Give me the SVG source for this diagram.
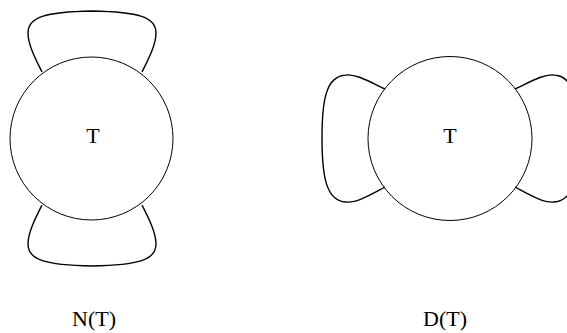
<svg xmlns="http://www.w3.org/2000/svg" width="567" height="333" viewBox="0 0 567 333">
<style>
.c{fill:none;stroke:#000;stroke-width:1}
.l{fill:none;stroke:#000;stroke-width:1.4}
text{font-family:"Liberation Serif","Times New Roman",serif;font-size:22px;fill:#000;text-anchor:middle}
</style>
<rect width="567" height="333" fill="#fff"/>
<g id="connectors">
<path class="l" d="M42,72 C36,60 28,45 28,33 C28,17 45,12 92,11 C139,12 156,17 156,33 C156,45 148,60 142,72"/>
<path class="l" d="M42,205 C36,217 28,232 28,244 C28,260 45,265 92,266 C139,265 156,260 156,244 C156,232 148,217 142,205"/>
<path class="l" d="M385,89 C370,82 357,74 346,75 C326,76 322,100 322,138 C322,176 326,201 346,202 C357,203 370,195 385,187"/>
<path class="l" d="M515,89 C530,82 543,74 554,75 C574,76 578,100 578,138 C578,176 574,201 554,202 C543,203 530,195 515,187"/>
</g>
<g id="nodeN">
<circle class="c" cx="91.5" cy="138.5" r="81.5"/>
<text x="93" y="143">T</text>
</g>
<g id="nodeD">
<circle class="c" cx="450" cy="138.5" r="82"/>
<text x="450" y="143">T</text>
</g>
<g id="labels">
<text x="94" y="326">N(T)</text>
<text x="445" y="326">D(T)</text>
</g>
</svg>
